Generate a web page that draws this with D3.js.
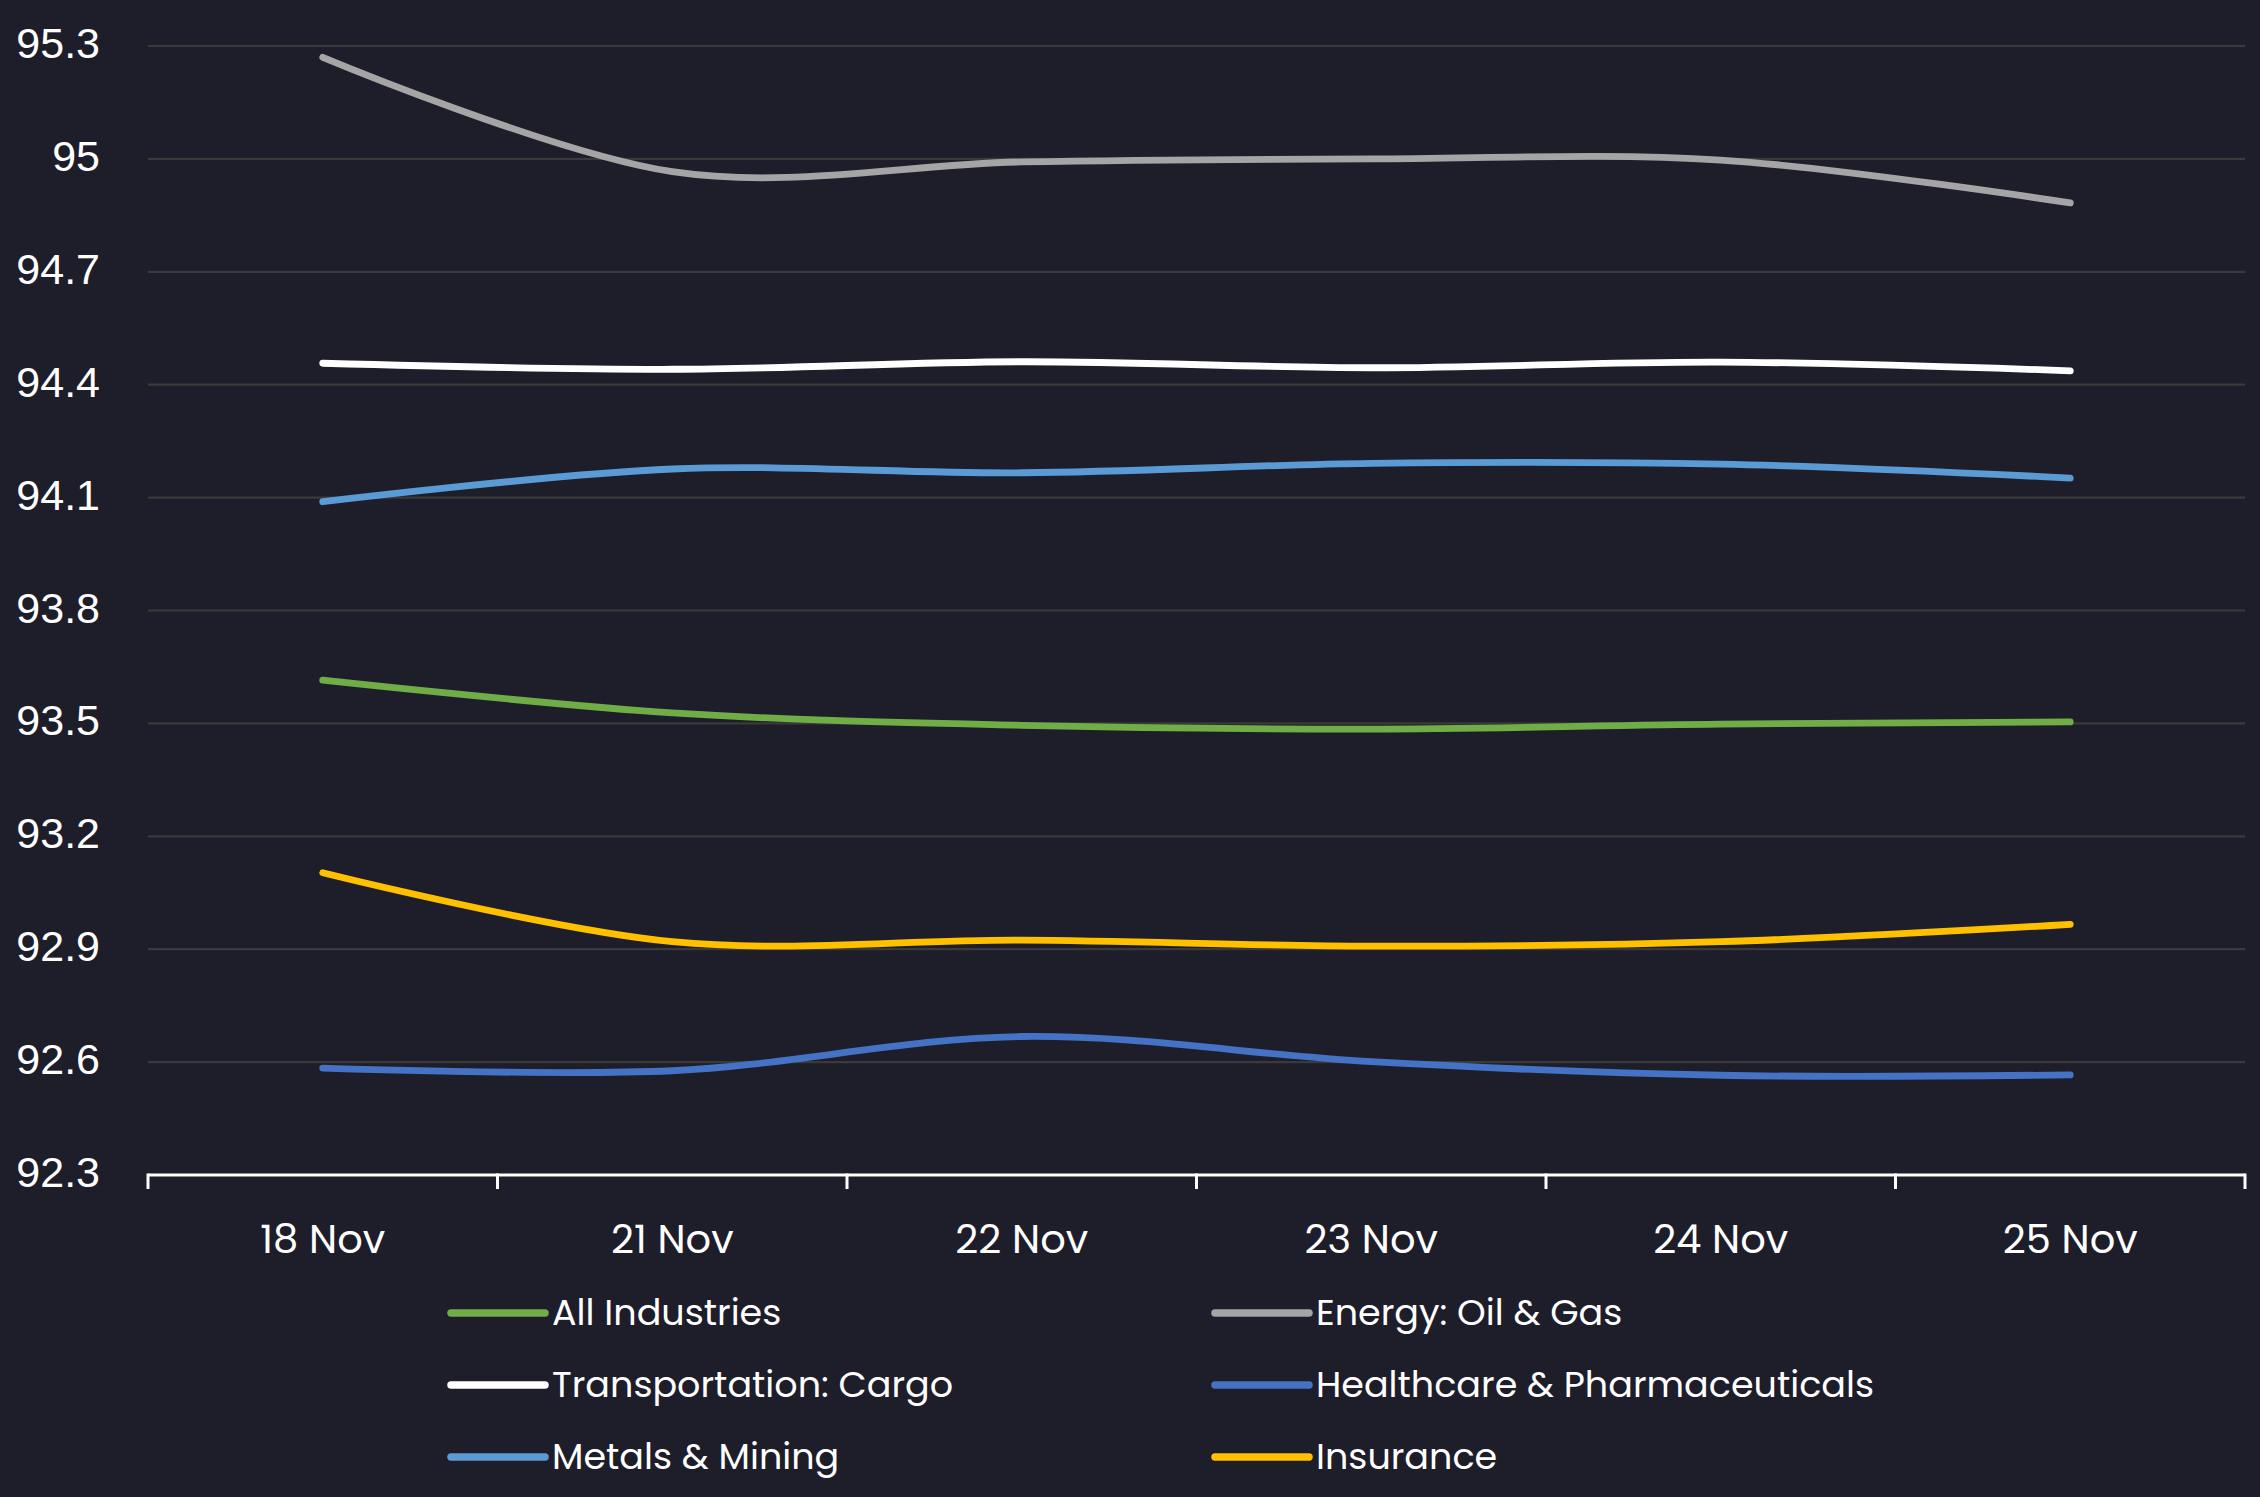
<!DOCTYPE html>
<html>
<head>
<meta charset="utf-8">
<script src="https://cdn.jsdelivr.net/npm/d3@7"></script>
<style>
  html, body { margin: 0; padding: 0; background: #1e1d2a; }
  svg { display: block; }
</style>
</head>
<body>
<div id="chart"></div>
<script>
// ---- data ----
const categories = ["18 Nov", "21 Nov", "22 Nov", "23 Nov", "24 Nov", "25 Nov"];
const seriesNames = ["All Industries", "Energy: Oil & Gas", "Transportation: Cargo",
                     "Healthcare & Pharmaceuticals", "Metals & Mining", "Insurance"];
const allIndustries  = [93.615, 93.528, 93.495, 93.485, 93.498, 93.504];
const energyOilGas   = [95.27, 94.966, 94.992, 95.0, 94.997, 94.883];
const transportCargo = [94.457, 94.441, 94.461, 94.445, 94.460, 94.437];
const healthcare     = [92.584, 92.577, 92.668, 92.601, 92.565, 92.566];
const metalsMining   = [94.089, 94.176, 94.166, 94.191, 94.189, 94.152];
const insurance      = [93.103, 92.920, 92.924, 92.908, 92.920, 92.966];
const yTicks = [92.3, 92.6, 92.9, 93.2, 93.5, 93.8, 94.1, 94.4, 94.7, 95, 95.3];
const yTickLabels = ["92.3", "92.6", "92.9", "93.2", "93.5", "93.8", "94.1", "94.4", "94.7", "95", "95.3"];
const seriesColors = ["#70ad47", "#a5a5a5", "#ffffff", "#4472c4", "#5b9bd5", "#ffc000"];

const seriesValues = [allIndustries, energyOilGas, transportCargo, healthcare, metalsMining, insurance];
const series = seriesNames.map((name, i) => ({ name, color: seriesColors[i], values: seriesValues[i] }));

// ---- layout ----
const W = 2260, H = 1497;
const plot = { left: 148, right: 2245, top: 46, bottom: 1175 };

const svg = d3.select("#chart").append("svg").attr("width", W).attr("height", H);
svg.append("rect").attr("width", W).attr("height", H).attr("fill", "#1e1d2a");

const x = d3.scaleBand().domain(categories).range([plot.left, plot.right]).padding(0);
const y = d3.scaleLinear().domain([92.3, 95.3]).range([plot.bottom, plot.top]);
const cx = c => x(c) + x.bandwidth() / 2;

// gridlines
svg.append("g").selectAll("line")
  .data(yTicks.filter(t => t !== 92.3))
  .join("line")
  .attr("x1", plot.left).attr("x2", plot.right)
  .attr("y1", d => y(d)).attr("y2", d => y(d))
  .attr("stroke", "#3a3a3a").attr("stroke-width", 2.2);

// y labels
svg.append("g").selectAll("text")
  .data(yTicks)
  .join("text")
  .attr("x", 100).attr("y", d => y(d) + 12)
  .attr("text-anchor", "end")
  .attr("fill", "#ffffff")
  .attr("font-family", "'Liberation Sans', Arial, sans-serif")
  .attr("font-size", 43)
  .text((d, i) => yTickLabels[i]);

// x axis
const xAxis = d3.axisBottom(x).tickSize(0).tickPadding(0);
const gx = svg.append("g").attr("transform", `translate(0,${plot.bottom})`).call(xAxis);
gx.select(".domain").remove();
gx.selectAll("text")
  .attr("y", 78)
  .attr("dy", 0)
  .attr("fill", "#ffffff")
  .attr("font-family", "Poppins, Inter, 'Open Sans', sans-serif")
  .attr("font-size", 40);

svg.append("line")
  .attr("x1", plot.left).attr("x2", plot.right)
  .attr("y1", plot.bottom).attr("y2", plot.bottom)
  .attr("stroke", "#ffffff").attr("stroke-width", 3);
const boundaries = categories.map(c => x(c)).concat([x(categories[categories.length - 1]) + x.bandwidth()]);
svg.append("g").selectAll("line")
  .data(boundaries)
  .join("line")
  .attr("x1", d => d).attr("x2", d => d)
  .attr("y1", plot.bottom - 1.5).attr("y2", plot.bottom + 14)
  .attr("stroke", "#ffffff").attr("stroke-width", 3);

// lines
const line = d3.line()
  .x((d, i) => cx(categories[i]))
  .y(d => y(d))
  .curve(d3.curveCardinal.tension(0));

svg.append("g").selectAll("path")
  .data(series)
  .join("path")
  .attr("d", d => line(d.values))
  .attr("fill", "none")
  .attr("stroke", d => d.color)
  .attr("stroke-width", 6.8)
  .attr("stroke-linecap", "round")
  .attr("stroke-linejoin", "round");

// legend
const legendCols = [451, 1215];
const legendRows = [1313, 1385, 1457];
const lg = svg.append("g").selectAll("g")
  .data(series)
  .join("g")
  .attr("transform", (d, i) => `translate(${legendCols[i % 2]},${legendRows[Math.floor(i / 2)]})`);
lg.append("line")
  .attr("x1", 0).attr("x2", 94)
  .attr("y1", 0).attr("y2", 0)
  .attr("stroke", d => d.color)
  .attr("stroke-width", 7.5)
  .attr("stroke-linecap", "round");
lg.append("text")
  .attr("x", 101).attr("y", 12)
  .attr("fill", "#ffffff")
  .attr("font-family", "Poppins, Inter, 'Open Sans', sans-serif")
  .attr("font-size", 36.5)
  .text(d => d.name);
</script>
</body>
</html>
